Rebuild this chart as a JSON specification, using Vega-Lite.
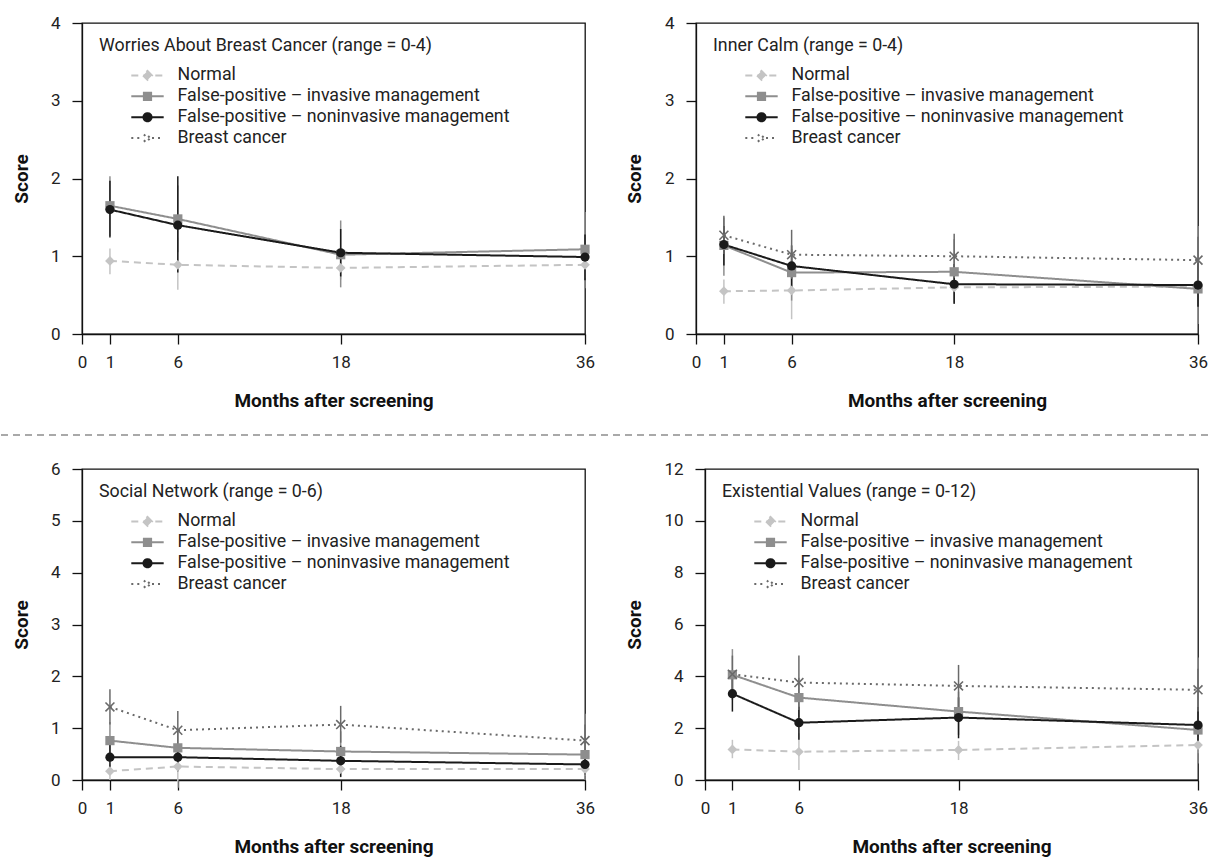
{
  "$schema": "https://vega.github.io/schema/vega-lite/v6.json",
  "background": "white",
  "padding": {"left": 0, "top": 13, "right": 0, "bottom": 0},
  "config": {
    "font": "Roboto",
    "view": {"stroke": "#111", "strokeWidth": 1.3},
    "axis": {"grid": false, "domainColor": "#111", "domainWidth": 1.3, "tickColor": "#111", "tickWidth": 1.3, "tickSize": 10, "labelFont": "Roboto", "labelFontSize": 17, "labelColor": "#222", "titleFont": "Roboto", "titleFontSize": 19, "titleFontWeight": "bold", "titleColor": "#111"},
    "axisX": {"labelPadding": 10, "titlePadding": 21, "labelFlush": false, "labelOverlap": false},
    "axisY": {"labelPadding": 12, "format": "d"},
    "legend": {"titleFont": "Roboto", "titleFontSize": 17.8, "titleFontWeight": "normal", "titleColor": "#222", "labelFont": "Roboto", "labelFontSize": 17.8, "labelColor": "#222", "titleLimit": 800, "labelLimit": 800, "padding": 0, "rowPadding": 1.9, "titlePadding": 10.6, "symbolSize": 324, "symbolStrokeWidth": 2, "symbolOffset": 38.5, "labelOffset": 20}
  },
  "datasets": {
    "d": [
      {"panel": "W", "group": "Normal", "month": 1, "score": 0.94, "lo": 0.77, "hi": 1.10},
      {"panel": "W", "group": "Normal", "month": 6, "score": 0.89, "lo": 0.57, "hi": 1.24},
      {"panel": "W", "group": "Normal", "month": 18, "score": 0.85, "lo": 0.70, "hi": 0.98},
      {"panel": "W", "group": "Normal", "month": 36, "score": 0.89, "lo": 0.72, "hi": 1.05},
      {"panel": "W", "group": "False-positive – invasive management", "month": 1, "score": 1.65, "lo": 1.26, "hi": 2.03},
      {"panel": "W", "group": "False-positive – invasive management", "month": 6, "score": 1.48, "lo": 1.05, "hi": 1.91},
      {"panel": "W", "group": "False-positive – invasive management", "month": 18, "score": 1.02, "lo": 0.60, "hi": 1.46},
      {"panel": "W", "group": "False-positive – invasive management", "month": 36, "score": 1.09, "lo": 0.59, "hi": 1.57},
      {"panel": "W", "group": "False-positive – noninvasive management", "month": 1, "score": 1.60, "lo": 1.24, "hi": 1.97},
      {"panel": "W", "group": "False-positive – noninvasive management", "month": 6, "score": 1.40, "lo": 0.79, "hi": 2.03},
      {"panel": "W", "group": "False-positive – noninvasive management", "month": 18, "score": 1.045, "lo": 0.74, "hi": 1.35},
      {"panel": "W", "group": "False-positive – noninvasive management", "month": 36, "score": 0.99, "lo": 0.69, "hi": 1.28},

      {"panel": "I", "group": "Normal", "month": 1, "score": 0.55, "lo": 0.39, "hi": 0.70},
      {"panel": "I", "group": "Normal", "month": 6, "score": 0.56, "lo": 0.19, "hi": 0.90},
      {"panel": "I", "group": "Normal", "month": 18, "score": 0.60, "lo": 0.41, "hi": 0.73},
      {"panel": "I", "group": "Normal", "month": 36, "score": 0.61, "lo": 0.50, "hi": 0.72},
      {"panel": "I", "group": "False-positive – invasive management", "month": 1, "score": 1.14, "lo": 0.75, "hi": 1.50},
      {"panel": "I", "group": "False-positive – invasive management", "month": 6, "score": 0.79, "lo": 0.43, "hi": 1.09},
      {"panel": "I", "group": "False-positive – invasive management", "month": 18, "score": 0.80, "lo": 0.39, "hi": 1.22},
      {"panel": "I", "group": "False-positive – invasive management", "month": 36, "score": 0.58, "lo": 0.13, "hi": 1.39},
      {"panel": "I", "group": "False-positive – noninvasive management", "month": 1, "score": 1.15, "lo": 0.88, "hi": 1.39},
      {"panel": "I", "group": "False-positive – noninvasive management", "month": 6, "score": 0.875, "lo": 0.60, "hi": 1.14},
      {"panel": "I", "group": "False-positive – noninvasive management", "month": 18, "score": 0.64, "lo": 0.39, "hi": 0.90},
      {"panel": "I", "group": "False-positive – noninvasive management", "month": 36, "score": 0.63, "lo": 0.35, "hi": 0.91},
      {"panel": "I", "group": "Breast cancer", "month": 1, "score": 1.27, "lo": 1.03, "hi": 1.52},
      {"panel": "I", "group": "Breast cancer", "month": 6, "score": 1.02, "lo": 0.71, "hi": 1.34},
      {"panel": "I", "group": "Breast cancer", "month": 18, "score": 1.00, "lo": 0.72, "hi": 1.29},
      {"panel": "I", "group": "Breast cancer", "month": 36, "score": 0.95, "lo": 0.64, "hi": 1.25},

      {"panel": "S", "group": "Normal", "month": 1, "score": 0.17, "lo": 0.0, "hi": 0.30},
      {"panel": "S", "group": "Normal", "month": 6, "score": 0.26, "lo": -0.15, "hi": 0.56},
      {"panel": "S", "group": "Normal", "month": 18, "score": 0.21, "lo": 0.05, "hi": 0.40},
      {"panel": "S", "group": "Normal", "month": 36, "score": 0.21, "lo": 0.08, "hi": 0.33},
      {"panel": "S", "group": "False-positive – invasive management", "month": 1, "score": 0.76, "lo": 0.37, "hi": 1.12},
      {"panel": "S", "group": "False-positive – invasive management", "month": 6, "score": 0.62, "lo": 0.30, "hi": 0.94},
      {"panel": "S", "group": "False-positive – invasive management", "month": 18, "score": 0.55, "lo": 0.14, "hi": 0.94},
      {"panel": "S", "group": "False-positive – invasive management", "month": 36, "score": 0.49, "lo": 0.0, "hi": 1.28},
      {"panel": "S", "group": "False-positive – noninvasive management", "month": 1, "score": 0.44, "lo": 0.17, "hi": 0.69},
      {"panel": "S", "group": "False-positive – noninvasive management", "month": 6, "score": 0.44, "lo": 0.17, "hi": 0.66},
      {"panel": "S", "group": "False-positive – noninvasive management", "month": 18, "score": 0.37, "lo": 0.06, "hi": 0.66},
      {"panel": "S", "group": "False-positive – noninvasive management", "month": 36, "score": 0.30, "lo": 0.11, "hi": 0.49},
      {"panel": "S", "group": "Breast cancer", "month": 1, "score": 1.41, "lo": 1.07, "hi": 1.75},
      {"panel": "S", "group": "Breast cancer", "month": 6, "score": 0.96, "lo": 0.59, "hi": 1.33},
      {"panel": "S", "group": "Breast cancer", "month": 18, "score": 1.07, "lo": 0.72, "hi": 1.43},
      {"panel": "S", "group": "Breast cancer", "month": 36, "score": 0.76, "lo": 0.43, "hi": 1.07},

      {"panel": "E", "group": "Normal", "month": 1, "score": 1.18, "lo": 0.84, "hi": 1.55},
      {"panel": "E", "group": "Normal", "month": 6, "score": 1.09, "lo": 0.39, "hi": 1.80},
      {"panel": "E", "group": "Normal", "month": 18, "score": 1.16, "lo": 0.77, "hi": 1.51},
      {"panel": "E", "group": "Normal", "month": 36, "score": 1.35, "lo": 1.03, "hi": 1.67},
      {"panel": "E", "group": "False-positive – invasive management", "month": 1, "score": 4.06, "lo": 3.09, "hi": 5.05},
      {"panel": "E", "group": "False-positive – invasive management", "month": 6, "score": 3.18, "lo": 2.41, "hi": 3.95},
      {"panel": "E", "group": "False-positive – invasive management", "month": 18, "score": 2.64, "lo": 1.74, "hi": 3.41},
      {"panel": "E", "group": "False-positive – invasive management", "month": 36, "score": 1.93, "lo": 0.64, "hi": 4.73},
      {"panel": "E", "group": "False-positive – noninvasive management", "month": 1, "score": 3.33, "lo": 2.64, "hi": 4.06},
      {"panel": "E", "group": "False-positive – noninvasive management", "month": 6, "score": 2.21, "lo": 1.55, "hi": 2.83},
      {"panel": "E", "group": "False-positive – noninvasive management", "month": 18, "score": 2.41, "lo": 1.61, "hi": 3.19},
      {"panel": "E", "group": "False-positive – noninvasive management", "month": 36, "score": 2.12, "lo": 1.35, "hi": 2.82},
      {"panel": "E", "group": "Breast cancer", "month": 1, "score": 4.08, "lo": 3.31, "hi": 4.80},
      {"panel": "E", "group": "Breast cancer", "month": 6, "score": 3.76, "lo": 2.70, "hi": 4.80},
      {"panel": "E", "group": "Breast cancer", "month": 18, "score": 3.63, "lo": 2.79, "hi": 4.44},
      {"panel": "E", "group": "Breast cancer", "month": 36, "score": 3.48, "lo": 2.64, "hi": 4.29}
    ]
  },
  "spacing": 23,
  "resolve": {"scale": {"x": "independent", "y": "independent", "color": "independent", "strokeDash": "independent"}, "legend": {"color": "independent"}},
  "vconcat": [
    {
      "spacing": 28,
      "resolve": {"scale": {"x": "independent", "y": "independent", "color": "independent", "strokeDash": "independent"}, "legend": {"color": "independent"}},
      "hconcat": [
        {
          "width": 503, "height": 311,
          "data": {"name": "d"},
          "transform": [{"filter": "datum.panel == 'W'"}],
          "encoding": {
            "x": {"field": "month", "type": "quantitative", "scale": {"domain": [0, 1, 36], "range": [0, 27.94, 503], "nice": false, "zero": false}, "axis": {"values": [0, 1, 6, 18, 36], "title": "Months after screening"}},
            "xOffset": {"field": "group", "type": "nominal", "scale": {"domain": ["Normal", "False-positive – invasive management", "False-positive – noninvasive management", "Breast cancer"], "range": [-6.5, 2, -1.8, 6.3]}},
            "color": {"field": "group", "type": "nominal", "scale": {"domain": ["Normal", "False-positive – invasive management", "False-positive – noninvasive management", "Breast cancer"], "range": ["#c4c4c4", "#8e8e8e", "#1a1a1a", "#6a6a6a"]},
              "legend": {"title": "Worries About Breast Cancer (range = 0-4)", "orient": "none", "legendX": 17, "legendY": 14,
                "encode": {"symbols": {"update": {
                  "shape": {"signal": "datum.value == 'Normal' ? 'M-1.8,0H1.8M0,-0.5L0.5,0L0,0.5L-0.5,0Z' : datum.value == 'Breast cancer' ? 'M-1.8,0H-0.5M0.5,0H1.8M-0.4,-0.4L0.4,0.4M-0.4,0.4L0.4,-0.4' : indexof(datum.value, 'noninvasive') >= 0 ? 'M-1.8,0H1.8M-0.45,0A0.45,0.45 0 1,0 0.45,0A0.45,0.45 0 1,0 -0.45,0Z' : 'M-1.8,0H1.8M-0.4,-0.4H0.4V0.4H-0.4Z'"},
                  "strokeDash": {"signal": "datum.value == 'Normal' ? [6,4] : datum.value == 'Breast cancer' ? [1.5,3] : [1,0]"},
                  "strokeWidth": {"value": 2},
                  "opacity": {"value": 1}
                }}}}}
          },
          "layer": [
            {"mark": {"type": "rule", "strokeWidth": 1.5}, "encoding": {"y": {"field": "lo", "type": "quantitative", "scale": {"domain": [0, 4], "nice": false}, "axis": {"values": [0, 1, 2, 3, 4], "title": "Score", "titleX": -51}}, "y2": {"field": "hi"}}},
            {"mark": {"type": "line", "strokeWidth": 2}, "encoding": {"y": {"field": "score", "type": "quantitative"}, "strokeDash": {"field": "group", "type": "nominal", "scale": {"domain": ["Normal", "False-positive – invasive management", "False-positive – noninvasive management", "Breast cancer"], "range": [[7, 5], [1, 0], [1, 0], [2, 4]]}, "legend": null}}},
            {"transform": [{"filter": "datum.group == 'Normal'"}], "mark": {"type": "point", "shape": "diamond", "filled": true, "opacity": 1, "size": 95}, "encoding": {"y": {"field": "score", "type": "quantitative"}}},
            {"transform": [{"filter": "indexof(datum.group, ' invasive') >= 0"}], "mark": {"type": "point", "shape": "square", "filled": true, "opacity": 1, "size": 85}, "encoding": {"y": {"field": "score", "type": "quantitative"}}},
            {"transform": [{"filter": "indexof(datum.group, 'noninvasive') >= 0"}], "mark": {"type": "point", "shape": "circle", "filled": true, "opacity": 1, "size": 85}, "encoding": {"y": {"field": "score", "type": "quantitative"}}},
            {"transform": [{"filter": "datum.group == 'Breast cancer'"}], "mark": {"type": "point", "shape": "M-1,-1L1,1M-1,1L1,-1", "filled": false, "opacity": 1, "size": 80, "strokeWidth": 1.6}, "encoding": {"y": {"field": "score", "type": "quantitative"}}}
          ]
        },
        {
          "width": 502, "height": 311,
          "data": {"name": "d"},
          "transform": [{"filter": "datum.panel == 'I'"}],
          "encoding": {
            "x": {"field": "month", "type": "quantitative", "scale": {"domain": [0, 1, 36], "range": [0, 27.89, 502], "nice": false, "zero": false}, "axis": {"values": [0, 1, 6, 18, 36], "title": "Months after screening"}},
            "xOffset": {"field": "group", "type": "nominal", "scale": {"domain": ["Normal", "False-positive – invasive management", "False-positive – noninvasive management", "Breast cancer"], "range": [-6.5, 2, -1.8, 6.3]}},
            "color": {"field": "group", "type": "nominal", "scale": {"domain": ["Normal", "False-positive – invasive management", "False-positive – noninvasive management", "Breast cancer"], "range": ["#c4c4c4", "#8e8e8e", "#1a1a1a", "#6a6a6a"]},
              "legend": {"title": "Inner Calm (range = 0-4)", "orient": "none", "legendX": 17, "legendY": 14,
                "encode": {"symbols": {"update": {
                  "shape": {"signal": "datum.value == 'Normal' ? 'M-1.8,0H1.8M0,-0.5L0.5,0L0,0.5L-0.5,0Z' : datum.value == 'Breast cancer' ? 'M-1.8,0H-0.5M0.5,0H1.8M-0.4,-0.4L0.4,0.4M-0.4,0.4L0.4,-0.4' : indexof(datum.value, 'noninvasive') >= 0 ? 'M-1.8,0H1.8M-0.45,0A0.45,0.45 0 1,0 0.45,0A0.45,0.45 0 1,0 -0.45,0Z' : 'M-1.8,0H1.8M-0.4,-0.4H0.4V0.4H-0.4Z'"},
                  "strokeDash": {"signal": "datum.value == 'Normal' ? [6,4] : datum.value == 'Breast cancer' ? [1.5,3] : [1,0]"},
                  "strokeWidth": {"value": 2},
                  "opacity": {"value": 1}
                }}}}}
          },
          "layer": [
            {"mark": {"type": "rule", "strokeWidth": 1.5}, "encoding": {"y": {"field": "lo", "type": "quantitative", "scale": {"domain": [0, 4], "nice": false}, "axis": {"values": [0, 1, 2, 3, 4], "title": "Score", "titleX": -52}}, "y2": {"field": "hi"}}},
            {"mark": {"type": "line", "strokeWidth": 2}, "encoding": {"y": {"field": "score", "type": "quantitative"}, "strokeDash": {"field": "group", "type": "nominal", "scale": {"domain": ["Normal", "False-positive – invasive management", "False-positive – noninvasive management", "Breast cancer"], "range": [[7, 5], [1, 0], [1, 0], [2, 4]]}, "legend": null}}},
            {"transform": [{"filter": "datum.group == 'Normal'"}], "mark": {"type": "point", "shape": "diamond", "filled": true, "opacity": 1, "size": 95}, "encoding": {"y": {"field": "score", "type": "quantitative"}}},
            {"transform": [{"filter": "indexof(datum.group, ' invasive') >= 0"}], "mark": {"type": "point", "shape": "square", "filled": true, "opacity": 1, "size": 85}, "encoding": {"y": {"field": "score", "type": "quantitative"}}},
            {"transform": [{"filter": "indexof(datum.group, 'noninvasive') >= 0"}], "mark": {"type": "point", "shape": "circle", "filled": true, "opacity": 1, "size": 85}, "encoding": {"y": {"field": "score", "type": "quantitative"}}},
            {"transform": [{"filter": "datum.group == 'Breast cancer'"}], "mark": {"type": "point", "shape": "M-1,-1L1,1M-1,1L1,-1", "filled": false, "opacity": 1, "size": 80, "strokeWidth": 1.6}, "encoding": {"y": {"field": "score", "type": "quantitative"}}}
          ]
        }
      ]
    },
    {
      "width": 1128, "height": 1,
      "data": {"values": [{}]},
      "view": {"stroke": null},
      "mark": {"type": "rule", "color": "#555", "strokeDash": [7, 5], "strokeWidth": 1.2, "clip": false},
      "encoding": {
        "x": {"datum": 0, "type": "quantitative", "scale": {"domain": [0, 1209], "range": [-81, 1128]}, "axis": null},
        "x2": {"datum": 1209},
        "y": {"datum": 0, "type": "quantitative", "scale": {"domain": [0, 1]}, "axis": null}
      }
    },
    {
      "spacing": 28,
      "resolve": {"scale": {"x": "independent", "y": "independent", "color": "independent", "strokeDash": "independent"}, "legend": {"color": "independent"}},
      "hconcat": [
        {
          "width": 503, "height": 311,
          "data": {"name": "d"},
          "transform": [{"filter": "datum.panel == 'S'"}],
          "encoding": {
            "x": {"field": "month", "type": "quantitative", "scale": {"domain": [0, 1, 36], "range": [0, 27.94, 503], "nice": false, "zero": false}, "axis": {"values": [0, 1, 6, 18, 36], "title": "Months after screening"}},
            "xOffset": {"field": "group", "type": "nominal", "scale": {"domain": ["Normal", "False-positive – invasive management", "False-positive – noninvasive management", "Breast cancer"], "range": [-6.5, 2, -1.8, 6.3]}},
            "color": {"field": "group", "type": "nominal", "scale": {"domain": ["Normal", "False-positive – invasive management", "False-positive – noninvasive management", "Breast cancer"], "range": ["#c4c4c4", "#8e8e8e", "#1a1a1a", "#6a6a6a"]},
              "legend": {"title": "Social Network (range = 0-6)", "orient": "none", "legendX": 17, "legendY": 14,
                "encode": {"symbols": {"update": {
                  "shape": {"signal": "datum.value == 'Normal' ? 'M-1.8,0H1.8M0,-0.5L0.5,0L0,0.5L-0.5,0Z' : datum.value == 'Breast cancer' ? 'M-1.8,0H-0.5M0.5,0H1.8M-0.4,-0.4L0.4,0.4M-0.4,0.4L0.4,-0.4' : indexof(datum.value, 'noninvasive') >= 0 ? 'M-1.8,0H1.8M-0.45,0A0.45,0.45 0 1,0 0.45,0A0.45,0.45 0 1,0 -0.45,0Z' : 'M-1.8,0H1.8M-0.4,-0.4H0.4V0.4H-0.4Z'"},
                  "strokeDash": {"signal": "datum.value == 'Normal' ? [6,4] : datum.value == 'Breast cancer' ? [1.5,3] : [1,0]"},
                  "strokeWidth": {"value": 2},
                  "opacity": {"value": 1}
                }}}}}
          },
          "layer": [
            {"mark": {"type": "rule", "strokeWidth": 1.5}, "encoding": {"y": {"field": "lo", "type": "quantitative", "scale": {"domain": [0, 6], "nice": false}, "axis": {"values": [0, 1, 2, 3, 4, 5, 6], "title": "Score", "titleX": -51}}, "y2": {"field": "hi"}}},
            {"mark": {"type": "line", "strokeWidth": 2}, "encoding": {"y": {"field": "score", "type": "quantitative"}, "strokeDash": {"field": "group", "type": "nominal", "scale": {"domain": ["Normal", "False-positive – invasive management", "False-positive – noninvasive management", "Breast cancer"], "range": [[7, 5], [1, 0], [1, 0], [2, 4]]}, "legend": null}}},
            {"transform": [{"filter": "datum.group == 'Normal'"}], "mark": {"type": "point", "shape": "diamond", "filled": true, "opacity": 1, "size": 95}, "encoding": {"y": {"field": "score", "type": "quantitative"}}},
            {"transform": [{"filter": "indexof(datum.group, ' invasive') >= 0"}], "mark": {"type": "point", "shape": "square", "filled": true, "opacity": 1, "size": 85}, "encoding": {"y": {"field": "score", "type": "quantitative"}}},
            {"transform": [{"filter": "indexof(datum.group, 'noninvasive') >= 0"}], "mark": {"type": "point", "shape": "circle", "filled": true, "opacity": 1, "size": 85}, "encoding": {"y": {"field": "score", "type": "quantitative"}}},
            {"transform": [{"filter": "datum.group == 'Breast cancer'"}], "mark": {"type": "point", "shape": "M-1,-1L1,1M-1,1L1,-1", "filled": false, "opacity": 1, "size": 80, "strokeWidth": 1.6}, "encoding": {"y": {"field": "score", "type": "quantitative"}}}
          ]
        },
        {
          "width": 493, "height": 311,
          "data": {"name": "d"},
          "transform": [{"filter": "datum.panel == 'E'"}],
          "encoding": {
            "x": {"field": "month", "type": "quantitative", "scale": {"domain": [0, 1, 36], "range": [0, 27.39, 493], "nice": false, "zero": false}, "axis": {"values": [0, 1, 6, 18, 36], "title": "Months after screening"}},
            "xOffset": {"field": "group", "type": "nominal", "scale": {"domain": ["Normal", "False-positive – invasive management", "False-positive – noninvasive management", "Breast cancer"], "range": [-6.5, 2, -1.8, 6.3]}},
            "color": {"field": "group", "type": "nominal", "scale": {"domain": ["Normal", "False-positive – invasive management", "False-positive – noninvasive management", "Breast cancer"], "range": ["#c4c4c4", "#8e8e8e", "#1a1a1a", "#6a6a6a"]},
              "legend": {"title": "Existential Values (range = 0-12)", "orient": "none", "legendX": 17, "legendY": 14,
                "encode": {"symbols": {"update": {
                  "shape": {"signal": "datum.value == 'Normal' ? 'M-1.8,0H1.8M0,-0.5L0.5,0L0,0.5L-0.5,0Z' : datum.value == 'Breast cancer' ? 'M-1.8,0H-0.5M0.5,0H1.8M-0.4,-0.4L0.4,0.4M-0.4,0.4L0.4,-0.4' : indexof(datum.value, 'noninvasive') >= 0 ? 'M-1.8,0H1.8M-0.45,0A0.45,0.45 0 1,0 0.45,0A0.45,0.45 0 1,0 -0.45,0Z' : 'M-1.8,0H1.8M-0.4,-0.4H0.4V0.4H-0.4Z'"},
                  "strokeDash": {"signal": "datum.value == 'Normal' ? [6,4] : datum.value == 'Breast cancer' ? [1.5,3] : [1,0]"},
                  "strokeWidth": {"value": 2},
                  "opacity": {"value": 1}
                }}}}}
          },
          "layer": [
            {"mark": {"type": "rule", "strokeWidth": 1.5}, "encoding": {"y": {"field": "lo", "type": "quantitative", "scale": {"domain": [0, 12], "nice": false}, "axis": {"values": [0, 2, 4, 6, 8, 10, 12], "title": "Score", "titleX": -61}}, "y2": {"field": "hi"}}},
            {"mark": {"type": "line", "strokeWidth": 2}, "encoding": {"y": {"field": "score", "type": "quantitative"}, "strokeDash": {"field": "group", "type": "nominal", "scale": {"domain": ["Normal", "False-positive – invasive management", "False-positive – noninvasive management", "Breast cancer"], "range": [[7, 5], [1, 0], [1, 0], [2, 4]]}, "legend": null}}},
            {"transform": [{"filter": "datum.group == 'Normal'"}], "mark": {"type": "point", "shape": "diamond", "filled": true, "opacity": 1, "size": 95}, "encoding": {"y": {"field": "score", "type": "quantitative"}}},
            {"transform": [{"filter": "indexof(datum.group, ' invasive') >= 0"}], "mark": {"type": "point", "shape": "square", "filled": true, "opacity": 1, "size": 85}, "encoding": {"y": {"field": "score", "type": "quantitative"}}},
            {"transform": [{"filter": "indexof(datum.group, 'noninvasive') >= 0"}], "mark": {"type": "point", "shape": "circle", "filled": true, "opacity": 1, "size": 85}, "encoding": {"y": {"field": "score", "type": "quantitative"}}},
            {"transform": [{"filter": "datum.group == 'Breast cancer'"}], "mark": {"type": "point", "shape": "M-1,-1L1,1M-1,1L1,-1", "filled": false, "opacity": 1, "size": 80, "strokeWidth": 1.6}, "encoding": {"y": {"field": "score", "type": "quantitative"}}}
          ]
        }
      ]
    }
  ]
}
